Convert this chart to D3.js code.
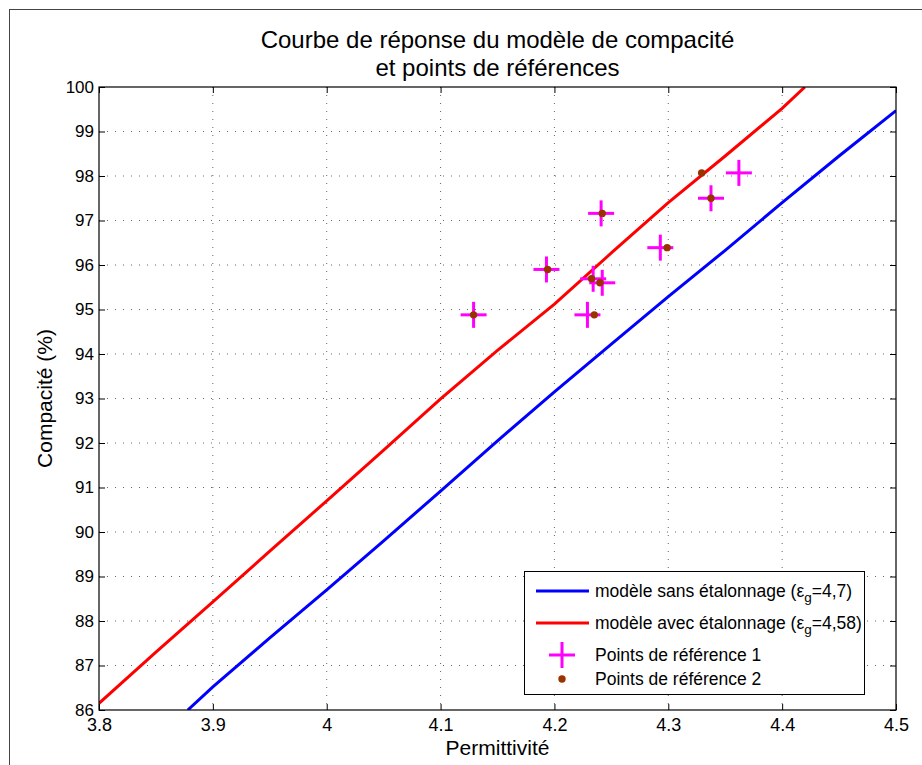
<!DOCTYPE html>
<html><head><meta charset="utf-8">
<script src="https://cdn.jsdelivr.net/npm/d3@7"></script>
<style>
html,body{margin:0;padding:0;background:#fff;}
svg{display:block;font-family:"Liberation Sans",Arial,sans-serif;}
</style></head>
<body>
<svg id="c" width="922" height="765"></svg>
<script>
// Model curves
const redX = [3.8, 3.85, 3.9, 3.95, 4.0, 4.05, 4.1, 4.15, 4.2, 4.25, 4.3, 4.35, 4.4, 4.42];
const redY = [86.15, 87.3, 88.43, 89.57, 90.70, 91.84, 92.99, 94.08, 95.12, 96.27, 97.40, 98.45, 99.52, 100.0];
const blueX = [3.878, 3.9, 3.95, 4.0, 4.05, 4.1, 4.15, 4.2, 4.25, 4.3, 4.35, 4.4, 4.45, 4.5];
const blueY = [86.0, 86.52, 87.62, 88.70, 89.80, 90.92, 92.05, 93.15, 94.22, 95.29, 96.33, 97.40, 98.45, 99.47];
// Reference points
const ref1X = [4.129, 4.193, 4.241, 4.234, 4.242, 4.229, 4.293, 4.3375, 4.362];
const ref1Y = [94.88, 95.90, 97.16, 95.69, 95.60, 94.88, 96.39, 97.50, 98.07];
const ref2X = [4.129, 4.194, 4.242, 4.2326, 4.240, 4.235, 4.299, 4.3375, 4.3293];
const ref2Y = [94.88, 95.90, 97.16, 95.69, 95.60, 94.88, 96.39, 97.50, 98.07];
// Ticks
const xTicks = [3.8, 3.9, 4.0, 4.1, 4.2, 4.3, 4.4, 4.5];
const xTickLabels = ["3.8", "3.9", "4", "4.1", "4.2", "4.3", "4.4", "4.5"];
const yTicks = [86, 87, 88, 89, 90, 91, 92, 93, 94, 95, 96, 97, 98, 99, 100];
const titleLines = ["Courbe de réponse du modèle de compacité", "et points de références"];
const xLabel = "Permittivité";
const yLabel = "Compacité (%)";

const svg = d3.select("#c");
const L = 99, R = 896, T = 87, B = 710;
const x = d3.scaleLinear().domain([3.8, 4.5]).range([L, R]);
const y = d3.scaleLinear().domain([86, 100]).range([B, T]);
const FONT = "Liberation Sans, Arial, sans-serif";

// outer figure frame
svg.append("rect").attr("x", 9.5).attr("y", 9.5).attr("width", 930).attr("height", 780)
  .attr("fill", "none").attr("stroke", "#444").attr("stroke-width", 1);

// grid
const grid = svg.append("g");
xTicks.slice(1, -1).forEach(t => {
  grid.append("line").attr("x1", x(t)).attr("x2", x(t)).attr("y1", T).attr("y2", B)
    .attr("stroke", "#666").attr("stroke-width", 1).attr("stroke-dasharray", "1,7");
});
yTicks.slice(1, -1).forEach(t => {
  grid.append("line").attr("x1", L).attr("x2", R).attr("y1", y(t)).attr("y2", y(t))
    .attr("stroke", "#666").attr("stroke-width", 1).attr("stroke-dasharray", "1,7");
});

// axes with inward ticks
const fmtX = (d, i) => xTickLabels[i];
svg.append("g").attr("transform", `translate(0,${B})`)
  .call(d3.axisBottom(x).tickValues(xTicks).tickFormat(fmtX).tickSizeInner(-6).tickSizeOuter(0).tickPadding(8))
  .call(g => { g.select(".domain").remove(); g.selectAll("text").attr("font-size", 18).attr("fill", "#000").attr("font-family", FONT); g.selectAll("line").attr("stroke", "#000"); });
svg.append("g").attr("transform", `translate(0,${T})`)
  .call(d3.axisTop(x).tickValues(xTicks).tickFormat("").tickSizeInner(-6).tickSizeOuter(0))
  .call(g => { g.select(".domain").remove(); g.selectAll("line").attr("stroke", "#000"); });
svg.append("g").attr("transform", `translate(${L},0)`)
  .call(d3.axisLeft(y).tickValues(yTicks).tickFormat(d3.format("d")).tickSizeInner(-6).tickSizeOuter(0).tickPadding(5))
  .call(g => { g.select(".domain").remove(); g.selectAll("text").attr("font-size", 17).attr("fill", "#000").attr("font-family", FONT); g.selectAll("line").attr("stroke", "#000"); });
svg.append("g").attr("transform", `translate(${R},0)`)
  .call(d3.axisRight(y).tickValues(yTicks).tickFormat("").tickSizeInner(-6).tickSizeOuter(0))
  .call(g => { g.select(".domain").remove(); g.selectAll("line").attr("stroke", "#000"); });

// clip
svg.append("clipPath").attr("id", "clip").append("rect").attr("x", L).attr("y", T).attr("width", R - L).attr("height", B - T);
const plot = svg.append("g").attr("clip-path", "url(#clip)");

const line = d3.line().x(d => x(d[0])).y(d => y(d[1]));
plot.append("path").datum(blueX.map((v, i) => [v, blueY[i]])).attr("d", line)
  .attr("fill", "none").attr("stroke", "#0000ff").attr("stroke-width", 3);
plot.append("path").datum(redX.map((v, i) => [v, redY[i]])).attr("d", line)
  .attr("fill", "none").attr("stroke", "#ff0000").attr("stroke-width", 3);

// crosses
const cs = 13;
const crosses = svg.append("g").attr("stroke", "#ff00ff").attr("stroke-width", 3);
ref1X.forEach((v, i) => {
  const cx = x(v), cy = y(ref1Y[i]);
  crosses.append("line").attr("x1", cx - cs).attr("x2", cx + cs).attr("y1", cy).attr("y2", cy);
  crosses.append("line").attr("x1", cx).attr("x2", cx).attr("y1", cy - cs).attr("y2", cy + cs);
});
// dots
svg.append("g").selectAll("circle").data(ref2X.map((v, i) => [v, ref2Y[i]])).join("circle")
  .attr("cx", d => x(d[0])).attr("cy", d => y(d[1])).attr("r", 3.7).attr("fill", "#993300");

// plot box
svg.append("rect").attr("x", L).attr("y", T).attr("width", R - L).attr("height", B - T)
  .attr("fill", "none").attr("stroke", "#000").attr("stroke-width", 1.2);

// title (two separate text lines)
titleLines.forEach((s, i) => svg.append("text").attr("text-anchor", "middle").attr("font-size", 24)
  .attr("fill", "#000").attr("x", (L + R) / 2).attr("y", 48 + i * 28).text(s));

// axis labels
svg.append("text").attr("x", (L + R) / 2).attr("y", 755).attr("text-anchor", "middle").attr("font-size", 21).text(xLabel);
svg.append("text").attr("transform", `translate(52,${(T + B) / 2}) rotate(-90)`).attr("text-anchor", "middle").attr("font-size", 21).text(yLabel);

// legend
const lg = svg.append("g");
lg.append("rect").attr("x", 524.5).attr("y", 571.5).attr("width", 340).attr("height", 123)
  .attr("fill", "#fff").attr("stroke", "#000").attr("stroke-width", 1);
const legItems = [
  { type: "line", color: "#0000ff", pre: "modèle sans étalonnage (ε", sub: "g", post: "=4,7)", y: 591 },
  { type: "line", color: "#ff0000", pre: "modèle avec étalonnage (ε", sub: "g", post: "=4,58)", y: 623 },
  { type: "cross", text: "Points de référence 1", y: 655 },
  { type: "dot", text: "Points de référence 2", y: 679 }
];
legItems.forEach(it => {
  if (it.type === "line") {
    lg.append("line").attr("x1", 536).attr("x2", 589).attr("y1", it.y).attr("y2", it.y)
      .attr("stroke", it.color).attr("stroke-width", 3);
  } else if (it.type === "cross") {
    const cx = 562;
    lg.append("line").attr("x1", cx - cs).attr("x2", cx + cs).attr("y1", it.y).attr("y2", it.y).attr("stroke", "#ff00ff").attr("stroke-width", 3);
    lg.append("line").attr("x1", cx).attr("x2", cx).attr("y1", it.y - cs).attr("y2", it.y + cs).attr("stroke", "#ff00ff").attr("stroke-width", 3);
  } else {
    lg.append("circle").attr("cx", 562).attr("cy", it.y).attr("r", 3.7).attr("fill", "#993300");
  }
  const t = lg.append("text").attr("x", 595).attr("y", it.y + 6).attr("font-size", 17.5).attr("fill", "#000");
  if (it.sub) {
    t.append("tspan").text(it.pre);
    t.append("tspan").attr("dy", 5).attr("font-size", 13.5).text(it.sub);
    t.append("tspan").attr("dy", -5).text(it.post);
  } else {
    t.text(it.text);
  }
});
</script>
</body></html>
